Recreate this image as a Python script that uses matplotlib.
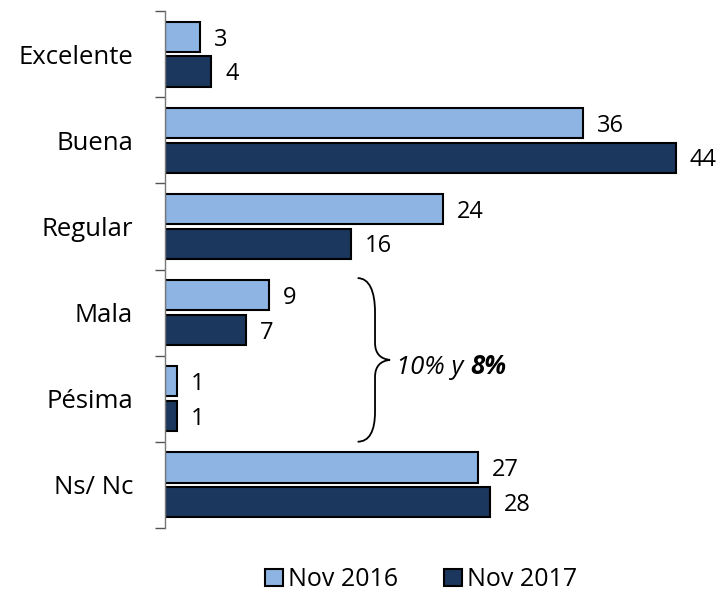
import matplotlib.pyplot as plt
from matplotlib.path import Path
from matplotlib.patches import PathPatch
import numpy as np

plt.rcParams['font.family'] = ['Open Sans', 'DejaVu Sans']

categorias = ["Excelente", "Buena", "Regular", "Mala", "Pésima", "Ns/ Nc"]
nov_2016 = [3, 36, 24, 9, 1, 27]
nov_2017 = [4, 44, 16, 7, 1, 28]
series = ["Nov 2016", "Nov 2017"]

color_claro = "#8db4e2"
color_oscuro = "#1b375e"

fig = plt.figure(figsize=(7.27, 5.93), dpi=100)
ax = fig.add_axes([0.227, 0.11, 0.766, 0.871])

y = np.arange(len(categorias))
alto = 0.35
sep = 0.025

b1 = ax.barh(y - alto / 2 - sep, nov_2016, height=alto, color=color_claro,
             edgecolor="black", linewidth=1.5, label=series[0])
b2 = ax.barh(y + alto / 2 + sep, nov_2017, height=alto, color=color_oscuro,
             edgecolor="black", linewidth=1.5, label=series[1])

# etiquetas de valores
for barras, vals in ((b1, nov_2016), (b2, nov_2017)):
    for barra, v in zip(barras, vals):
        ax.annotate(str(v), xy=(v, barra.get_y() + barra.get_height() / 2),
                    xytext=(10, -2), textcoords="offset points",
                    va="center", ha="left", fontsize=17)

ax.set_xlim(0, 48)
ax.set_ylim(len(categorias) - 0.5, -0.5)

ax.set_yticks(y)
ax.set_yticklabels(categorias, fontsize=18.5)
ax.set_yticks(np.arange(-0.5, len(categorias)), minor=True)
ax.tick_params(axis="y", which="major", length=0, pad=23)
ax.tick_params(axis="y", which="minor", length=7, width=1, color="#555555")
ax.set_xticks([])

for lado in ("top", "right", "bottom"):
    ax.spines[lado].set_visible(False)
ax.spines["left"].set_color("#777777")
ax.spines["left"].set_linewidth(1)

# llave entre Mala y Pesima
verts = [
    (16.6, 2.6),
    (17.6, 2.6), (18.1, 2.75), (18.1, 3.0),
    (18.1, 3.35),
    (18.1, 3.48), (18.6, 3.54), (19.4, 3.55),
    (18.6, 3.56), (18.1, 3.62), (18.1, 3.75),
    (18.1, 4.15),
    (18.1, 4.38), (17.6, 4.5), (16.6, 4.5),
]
codes = [Path.MOVETO,
         Path.CURVE4, Path.CURVE4, Path.CURVE4,
         Path.LINETO,
         Path.CURVE4, Path.CURVE4, Path.CURVE4,
         Path.CURVE4, Path.CURVE4, Path.CURVE4,
         Path.LINETO,
         Path.CURVE4, Path.CURVE4, Path.CURVE4]
ax.add_patch(PathPatch(Path(verts, codes), facecolor="none",
                       edgecolor="black", linewidth=1.3, clip_on=False))

t1 = ax.text(19.9, 3.64, "10% y ", fontsize=18.5, style="italic",
             va="center", ha="left")
ax.annotate("8%", xy=(1, 0), xycoords=t1, va="bottom", ha="left",
            fontsize=18.5, style="italic", fontweight="bold")

fig.legend(handles=[b1, b2], labels=series, loc="center",
           bbox_to_anchor=(0.579, 0.022), ncol=2, frameon=False,
           fontsize=18, handlelength=0.72, handleheight=0.65,
           handletextpad=0.2, columnspacing=1.85, borderpad=0)

fig.savefig("out.png", dpi=100)
